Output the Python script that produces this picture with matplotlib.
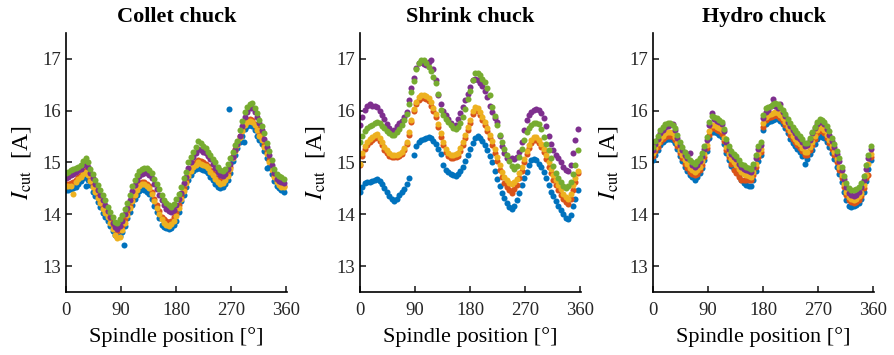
import numpy as np
import matplotlib
matplotlib.use('Agg')
import matplotlib.pyplot as plt

plt.rcParams['font.family'] = ['Liberation Serif', 'DejaVu Serif']
plt.rcParams['mathtext.fontset'] = 'stix'

# spindle positions (deg), one sample every 4 degrees
angle = np.arange(0, 360, 4)

# ---- Collet chuck ----
collet_blue = [14.47, 14.46, 14.48, 14.50, 14.52, 14.58, 14.64, 14.70, 14.74, 14.66,
               14.56, 14.44, 14.36, 14.24, 14.14, 14.02, 13.95, 13.88, 13.78, 13.68,
               13.60, 13.56, 13.58, 13.66, 13.78, 13.92, 14.04, 14.18, 14.30, 14.38,
               14.45, 14.48, 14.47, 14.44, 14.40, 14.30, 14.16, 14.04, 13.92, 13.80,
               13.76, 13.74, 13.72, 13.74, 13.80, 13.88, 14.05, 14.25, 14.38, 14.52,
               14.66, 14.76, 14.84, 14.88, 14.90, 14.88, 14.86, 14.84, 14.80, 14.72,
               14.66, 14.58, 14.52, 14.50, 14.52, 14.58, 14.66, 14.80, 15.02, 15.15,
               15.28, 15.40, 15.52, 15.65, 15.70, 15.72, 15.70, 15.62, 15.52, 15.44,
               15.36, 15.22, 15.08, 14.92, 14.78, 14.64, 14.54, 14.50, 14.46, 14.44]
collet_orange = [14.58, 14.58, 14.60, 14.62, 14.66, 14.72, 14.76, 14.82, 14.86, 14.80,
                 14.68, 14.56, 14.48, 14.36, 14.26, 14.15, 14.08, 14.00, 13.90, 13.80,
                 13.72, 13.68, 13.70, 13.78, 13.90, 14.04, 14.16, 14.30, 14.42, 14.52,
                 14.58, 14.62, 14.62, 14.58, 14.54, 14.44, 14.30, 14.18, 14.06, 13.95,
                 13.90, 13.88, 13.86, 13.88, 13.94, 14.02, 14.18, 14.36, 14.50, 14.64,
                 14.78, 14.88, 14.96, 15.00, 15.04, 15.02, 15.00, 14.98, 14.94, 14.86,
                 14.80, 14.72, 14.66, 14.64, 14.66, 14.72, 14.80, 14.92, 15.12, 15.26,
                 15.38, 15.52, 15.64, 15.76, 15.82, 15.84, 15.82, 15.75, 15.66, 15.57,
                 15.48, 15.34, 15.20, 15.04, 14.90, 14.76, 14.66, 14.60, 14.57, 14.55]
collet_yellow = [14.55, 14.54, 14.55, 14.40, 14.62, 14.68, 14.72, 14.78, 14.82, 14.76,
                 14.64, 14.52, 14.44, 14.32, 14.22, 14.10, 14.02, 13.94, 13.84, 13.72,
                 13.60, 13.55, 13.56, 13.70, 13.84, 13.98, 14.12, 14.26, 14.38, 14.47,
                 14.54, 14.58, 14.58, 14.54, 14.50, 14.40, 14.26, 14.12, 14.00, 13.90,
                 13.84, 13.80, 13.78, 13.82, 13.88, 13.96, 14.12, 14.30, 14.45, 14.60,
                 14.74, 14.84, 14.92, 14.96, 15.00, 14.98, 14.96, 14.94, 14.90, 14.82,
                 14.76, 14.68, 14.62, 14.58, 14.60, 14.66, 14.74, 14.88, 15.08, 15.22,
                 15.34, 15.48, 15.60, 15.72, 15.78, 15.80, 15.78, 15.72, 15.62, 15.52,
                 15.44, 15.30, 15.16, 15.00, 14.86, 14.72, 14.62, 14.56, 14.53, 14.52]
collet_purple = [14.70, 14.72, 14.76, 14.78, 14.82, 14.85, 14.88, 14.95, 14.98, 14.92,
                 14.80, 14.70, 14.58, 14.47, 14.37, 14.28, 14.18, 14.06, 13.95, 13.84,
                 13.76, 13.72, 13.78, 13.88, 14.00, 14.12, 14.28, 14.45, 14.56, 14.66,
                 14.74, 14.78, 14.80, 14.79, 14.76, 14.70, 14.58, 14.48, 14.38, 14.28,
                 14.18, 14.10, 14.06, 14.04, 14.08, 14.18, 14.30, 14.42, 14.60, 14.72,
                 14.90, 15.00, 15.10, 15.18, 15.26, 15.24, 15.20, 15.18, 15.12, 15.06,
                 14.98, 14.90, 14.82, 14.76, 14.74, 14.78, 14.88, 14.98, 15.10, 15.24,
                 15.36, 15.52, 15.70, 15.88, 15.98, 16.05, 16.05, 15.98, 15.88, 15.76,
                 15.62, 15.46, 15.30, 15.14, 14.96, 14.80, 14.68, 14.64, 14.62, 14.60]
collet_green = [14.80, 14.82, 14.85, 14.87, 14.90, 14.92, 14.95, 15.03, 15.08, 15.00,
                14.88, 14.78, 14.66, 14.56, 14.46, 14.37, 14.27, 14.15, 14.04, 13.95,
                13.86, 13.84, 13.90, 13.98, 14.10, 14.22, 14.38, 14.55, 14.66, 14.76,
                14.84, 14.88, 14.90, 14.90, 14.86, 14.80, 14.68, 14.58, 14.48, 14.38,
                14.28, 14.22, 14.18, 14.15, 14.20, 14.30, 14.40, 14.52, 14.70, 14.82,
                15.00, 15.10, 15.20, 15.30, 15.42, 15.38, 15.32, 15.28, 15.20, 15.14,
                15.06, 15.00, 14.92, 14.85, 14.84, 14.88, 14.98, 15.08, 15.20, 15.34,
                15.42, 15.62, 15.80, 15.98, 16.08, 16.12, 16.14, 16.06, 15.95, 15.82,
                15.70, 15.56, 15.38, 15.22, 15.05, 14.88, 14.78, 14.74, 14.72, 14.68]
collet_blue_out_x = [33, 94, 267, 290, 329]
collet_blue_out_y = [14.55, 13.41, 16.03, 15.40, 14.90]

# ---- Shrink chuck ----
shrink_blue = [14.43, 14.52, 14.60, 14.62, 14.62, 14.64, 14.66, 14.68, 14.64, 14.58,
               14.50, 14.44, 14.36, 14.30, 14.26, 14.30, 14.38, 14.44, 14.48, 14.58,
               14.70, np.nan, 15.14, 15.32, 15.40, 15.43, 15.45, 15.48, 15.50, 15.47,
               15.42, 15.36, 15.26, 15.16, 14.95, 14.86, 14.82, 14.78, 14.76, 14.74,
               14.78, 14.84, 14.92, 15.02, 15.14, 15.26, 15.38, 15.47, 15.52, 15.48,
               15.42, 15.34, 15.24, 15.12, 15.00, 14.84, 14.68, 14.54, 14.42, 14.32,
               14.22, 14.14, 14.10, 14.16, 14.28, 14.42, 14.56, 14.70, 14.82, 14.96,
               15.04, 15.06, 15.04, 14.98, 14.92, 14.82, 14.70, 14.56, 14.44, 14.36,
               14.26, 14.16, 14.08, 14.00, 13.92, 13.90, 13.98, 14.16, 14.30, 14.46]
shrink_orange = [14.96, 15.12, 15.26, 15.34, 15.40, 15.44, 15.48, 15.50, 15.42, 15.34,
                 15.24, 15.18, 15.12, 15.10, 15.10, 15.10, 15.12, 15.16, 15.24, 15.36,
                 15.54, 15.78, 16.00, 16.12, 16.20, 16.24, 16.24, 16.22, 16.18, 16.10,
                 16.00, 15.88, 15.68, 15.50, 15.34, 15.20, 15.12, 15.08, 15.08, 15.10,
                 15.12, 15.22, 15.34, 15.48, 15.62, 15.76, 15.94, 16.02, 16.00, 15.92,
                 15.82, 15.72, 15.60, 15.48, 15.34, 15.18, 15.02, 14.86, 14.72, 14.60,
                 14.52, 14.46, 14.42, 14.48, 14.56, 14.70, 14.84, 15.00, 15.16, 15.28,
                 15.38, 15.44, 15.44, 15.38, 15.30, 15.20, 15.06, 14.92, 14.80, 14.66,
                 14.56, 14.46, 14.38, 14.30, 14.24, 14.20, 14.30, 14.46, 14.62, 14.80]
shrink_yellow = [14.98, 15.18, 15.32, 15.40, 15.46, 15.50, 15.54, 15.55, 15.48, 15.40,
                 15.30, 15.24, 15.18, 15.15, 15.14, 15.14, 15.16, 15.20, 15.28, 15.40,
                 15.58, 15.82, 16.04, 16.16, 16.26, 16.30, 16.30, 16.28, 16.24, 16.16,
                 16.06, 15.94, 15.74, 15.56, 15.40, 15.26, 15.18, 15.14, 15.14, 15.16,
                 15.18, 15.28, 15.40, 15.54, 15.68, 15.82, 16.00, 16.08, 16.06, 15.98,
                 15.88, 15.78, 15.66, 15.54, 15.42, 15.26, 15.10, 14.95, 14.82, 14.72,
                 14.66, 14.60, 14.58, 14.62, 14.68, 14.80, 14.92, 15.06, 15.22, 15.34,
                 15.44, 15.50, 15.50, 15.44, 15.36, 15.26, 15.14, 15.00, 14.88, 14.76,
                 14.66, 14.56, 14.48, 14.40, 14.34, 14.30, 14.40, 14.56, 14.70, 14.84]
shrink_purple = [15.72, 15.88, 16.02, 16.10, 16.12, 16.10, 16.10, 16.08, 16.00, 15.92,
                 15.84, 15.74, 15.66, 15.60, 15.62, 15.70, 15.76, 15.80, 15.88, 15.98,
                 16.20, 16.44, 16.64, 16.82, 16.92, 16.94, 16.90, 16.88, 16.94, 16.98,
                 16.80, 16.60, 16.30, 16.12, 16.00, 15.92, 15.84, 15.76, 15.70, 15.72,
                 15.84, 15.96, 16.08, 16.20, 16.32, 16.46, 16.60, 16.62, 16.60, 16.54,
                 16.48, 16.38, 16.26, 16.10, 15.98, 15.86, 15.78, 15.52, 15.32, 15.18,
                 15.08, 15.06, 15.08, 15.06, 15.10, 15.20, 15.40, 15.62, 15.82, 15.92,
                 15.98, 16.02, 16.04, 16.02, 15.96, 15.86, 15.70, 15.52, 15.36, 15.24,
                 15.14, 15.08, 15.00, 14.92, 14.86, 14.84, 14.96, 15.18, 15.44, 15.64]
shrink_green = [15.40, 15.52, 15.60, 15.66, 15.70, 15.72, 15.76, 15.79, 15.76, 15.70,
                15.66, 15.60, 15.56, 15.53, 15.54, 15.58, 15.64, 15.72, 15.82, 15.94,
                16.12, 16.36, 16.58, 16.80, 16.93, 16.98, 16.98, 16.92, 16.84, 16.76,
                16.66, 16.54, 16.32, 16.02, 15.92, 15.84, 15.78, 15.72, 15.66, 15.64,
                15.68, 15.76, 15.88, 16.04, 16.22, 16.38, 16.60, 16.72, 16.72, 16.68,
                16.62, 16.55, 16.44, 16.30, 16.08, 15.90, 15.72, 15.54, 15.40, 15.26,
                15.14, 15.02, 14.94, 14.88, 14.94, 15.10, 15.26, 15.44, 15.58, 15.66,
                15.72, 15.76, 15.77, 15.74, 15.64, 15.50, 15.36, 15.24, 15.08, 14.94,
                14.80, 14.70, 14.62, 14.55, 14.50, 14.54, 14.62, 14.78, 14.95, 15.24]

# ---- Hydro chuck ----
hydro_blue = [15.05, 15.15, 15.25, 15.34, 15.40, 15.44, 15.46, 15.46, 15.44, 15.38,
              15.26, 15.12, 15.02, 14.92, 14.84, 14.76, 14.72, 14.66, 14.72, 14.80,
              14.90, 15.04, 15.22, 15.48, 15.58, 15.58, 15.56, 15.54, 15.50, 15.36,
              15.18, 15.04, 14.94, 14.88, 14.84, 14.76, 14.66, 14.60, 14.56, 14.55,
              14.55, 14.66, 14.84, 15.02, 15.14, 15.62, 15.74, 15.78, 15.80, 15.82,
              15.84, 15.84, 15.80, 15.74, 15.66, 15.56, 15.46, 15.38, 15.32, 15.26,
              15.20, 15.12, 14.98, 15.06, 15.16, 15.24, 15.36, 15.46, 15.52, 15.50,
              15.48, 15.40, 15.30, 15.18, 15.06, 14.92, 14.78, 14.62, 14.44, 14.28,
              14.16, 14.15, 14.16, 14.18, 14.22, 14.30, 14.44, 14.64, 14.88, 15.04]
hydro_orange = [15.12, 15.22, 15.30, 15.40, 15.46, 15.50, 15.52, 15.52, 15.50, 15.44,
                15.32, 15.18, 15.08, 14.98, 14.90, 14.82, 14.78, 14.75, 14.78, 14.85,
                14.95, 15.10, 15.28, 15.54, 15.66, 15.66, 15.62, 15.60, 15.55, 15.42,
                15.24, 15.10, 14.98, 14.85, 14.80, 14.72, 14.66, 14.66, 14.66, 14.66,
                14.66, 14.76, 14.92, 15.10, 15.20, 15.68, 15.82, 15.86, 15.88, 15.90,
                15.92, 15.90, 15.86, 15.80, 15.72, 15.62, 15.54, 15.46, 15.40, 15.34,
                15.28, 15.22, 15.14, 15.14, 15.24, 15.34, 15.46, 15.56, 15.62, 15.60,
                15.56, 15.48, 15.38, 15.26, 15.14, 15.00, 14.86, 14.70, 14.52, 14.38,
                14.28, 14.24, 14.22, 14.24, 14.28, 14.36, 14.50, 14.70, 14.75, 15.10]
hydro_yellow = [15.18, 15.28, 15.38, 15.46, 15.52, 15.56, 15.58, 15.58, 15.56, 15.50,
                15.38, 15.25, 15.15, 15.05, 14.97, 14.90, 14.85, 14.82, 14.86, 14.92,
                15.02, 15.16, 15.34, 15.60, 15.72, 15.72, 15.68, 15.66, 15.62, 15.48,
                15.30, 15.16, 15.06, 15.00, 14.96, 14.88, 14.82, 14.78, 14.76, 14.74,
                14.72, 14.82, 14.98, 15.16, 15.26, 15.76, 15.88, 15.92, 15.94, 15.96,
                15.98, 15.96, 15.92, 15.86, 15.78, 15.68, 15.60, 15.52, 15.46, 15.40,
                15.35, 15.28, 15.20, 15.20, 15.30, 15.40, 15.52, 15.62, 15.68, 15.66,
                15.62, 15.54, 15.44, 15.32, 15.20, 15.06, 14.92, 14.76, 14.58, 14.44,
                14.34, 14.30, 14.28, 14.30, 14.35, 14.42, 14.56, 14.76, 14.98, 15.16]
hydro_purple = [15.25, 15.36, 15.46, 15.56, 15.63, 15.68, 15.70, 15.72, 15.74, 15.62,
                15.48, 15.34, 15.24, 15.14, 15.08, 15.18, 14.96, 14.92, 14.96, 15.02,
                15.12, 15.26, 15.44, 15.72, 15.96, 15.84, 15.80, 15.78, 15.74, 15.60,
                15.40, 15.26, 15.16, 15.10, 15.06, 14.98, 14.92, 14.88, 14.86, 14.84,
                14.82, 14.92, 15.08, 15.26, 15.34, 15.86, 15.98, 16.02, 16.10, 16.22,
                16.10, 16.06, 16.12, 15.98, 15.90, 15.78, 15.70, 15.62, 15.56, 15.50,
                15.46, 15.40, 15.32, 15.34, 15.44, 15.56, 15.66, 15.74, 15.78, 15.80,
                15.74, 15.64, 15.54, 15.42, 15.30, 15.16, 15.02, 14.86, 14.68, 14.52,
                14.42, 14.38, 14.36, 14.38, 14.44, 14.52, 14.66, 14.88, 15.08, 15.26]
hydro_green = [15.30, 15.42, 15.52, 15.62, 15.69, 15.74, 15.76, 15.76, 15.73, 15.66,
               15.54, 15.40, 15.30, 15.20, 15.12, 15.05, 15.00, 14.97, 15.02, 15.08,
               15.18, 15.32, 15.50, 15.78, 15.90, 15.88, 15.85, 15.82, 15.78, 15.64,
               15.45, 15.32, 15.22, 15.16, 15.12, 15.04, 14.98, 14.95, 14.92, 14.90,
               14.88, 14.98, 15.15, 15.32, 15.40, 15.92, 16.05, 16.08, 16.10, 16.12,
               16.15, 16.12, 16.08, 16.02, 15.94, 15.84, 15.76, 15.68, 15.62, 15.56,
               15.52, 15.46, 15.38, 15.38, 15.48, 15.58, 15.68, 15.78, 15.84, 15.82,
               15.78, 15.70, 15.60, 15.48, 15.36, 15.22, 15.08, 14.92, 14.74, 14.60,
               14.50, 14.47, 14.46, 14.48, 14.52, 14.60, 14.74, 14.95, 15.15, 15.32]

titles = ['Collet chuck', 'Shrink chuck', 'Hydro chuck']
panel_data = [
    [collet_blue, collet_orange, collet_yellow, collet_purple, collet_green],
    [shrink_blue, shrink_orange, shrink_yellow, shrink_purple, shrink_green],
    [hydro_blue, hydro_orange, hydro_yellow, hydro_purple, hydro_green],
]
colors = ['#0072BD', '#D95319', '#EDB120', '#7E2F8E', '#77AC30']

fig = plt.figure(figsize=(8.94, 3.55), dpi=100)
lefts = [66 / 894, 360 / 894, 653 / 894]
for i in range(3):
    ax = fig.add_axes([lefts[i], 1 - 292 / 355, 221 / 894, 259 / 355])
    for ser, c in zip(panel_data[i], colors):
        ax.scatter(angle, ser, s=19, color=c, linewidths=0, zorder=2)
    if i == 0:
        ax.scatter(collet_blue_out_x, collet_blue_out_y, s=19, color=colors[0],
                   linewidths=0, zorder=2)
    ax.set_xlim(0, 361)
    ax.set_ylim(12.5, 17.5)
    ax.set_xticks([0, 90, 180, 270, 360])
    ax.set_yticks([13, 14, 15, 16, 17])
    ax.spines['top'].set_visible(False)
    ax.spines['right'].set_visible(False)
    ax.spines['left'].set_linewidth(1.2)
    ax.spines['bottom'].set_linewidth(1.2)
    ax.tick_params(direction='in', length=4, width=1.2, labelsize=13.5, colors='#262626')
    ax.tick_params(axis='x', pad=7)
    ax.set_title(titles[i], fontsize=16, fontweight='bold', pad=8)
    ax.set_xlabel('Spindle position [°]', fontsize=16, labelpad=6)
    ax.set_ylabel(r'$I_{\mathrm{cut}}$  [A]', fontsize=17, labelpad=7)

fig.savefig('out.png', dpi=100)
